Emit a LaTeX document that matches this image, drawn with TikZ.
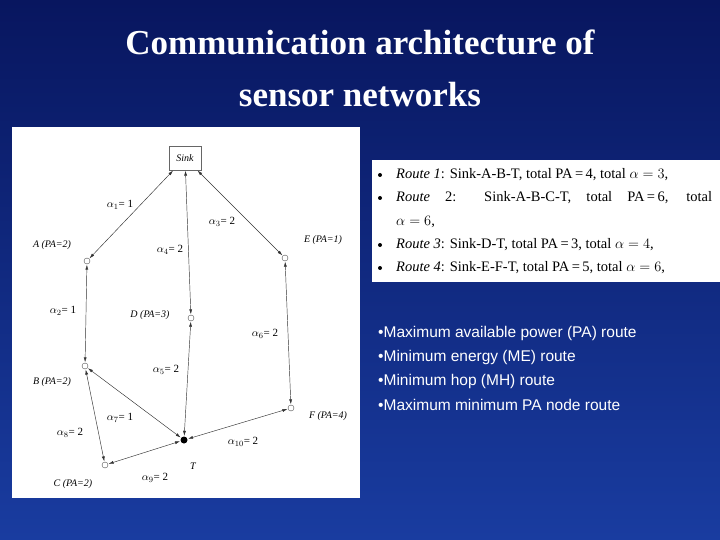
\documentclass[tikz,border=0pt]{standalone}
\usepackage{fontspec}
\setmainfont{Liberation Serif}
\newfontfamily\arial{Liberation Sans}
\usetikzlibrary{arrows.meta}
\begin{document}
\begin{tikzpicture}[x=1pt,y=-1pt,
  vtx/.style={circle,draw=black!70,fill=white,inner sep=0pt,minimum size=6pt,line width=0.4pt},
  edge/.style={draw=black!80,line width=0.45pt,{Latex[length=5pt,width=3pt]}-{Latex[length=5pt,width=3pt]},shorten <=0.5pt,shorten >=0.5pt},
  lab/.style={font=\fontsize{10}{11}\selectfont\itshape,text=black,inner sep=0pt},
  alab/.style={font=\fontsize{11}{12}\selectfont,text=black,inner sep=0pt},
  rt/.style={font=\fontsize{14.5}{16}\selectfont,text=black,anchor=west,inner sep=0pt},
  bl/.style={font=\arial\fontsize{15.5}{17}\selectfont,text=white,anchor=west,inner sep=0pt}]
\definecolor{bgtop}{RGB}{8,22,95}
\definecolor{bgbot}{RGB}{25,60,160}
\shade[top color=bgtop,bottom color=bgbot] (0,0) rectangle (720,540);
\useasboundingbox (0,0) rectangle (720,540);
\node[text=white,font=\fontsize{35}{38}\selectfont\bfseries] (t1) at (360,42) {Communication architecture of};
\node[text=white,font=\fontsize{35}{38}\selectfont\bfseries] (t2) at (360,95) {sensor networks};
% graph panel
\fill[white] (12,127) rectangle (360,498);
\node[draw=black!60,fill=white,minimum width=32pt,minimum height=24pt,inner sep=0pt,font=\fontsize{10}{11}\selectfont\itshape] (S) at (185,158) {Sink};
\node[vtx] (A) at (87,261) {};
\node[vtx] (D) at (191,318) {};
\node[vtx] (E) at (285,258) {};
\node[vtx] (B) at (85,366) {};
\node[vtx] (F) at (291,408) {};
\node[circle,fill=black,inner sep=0pt,minimum size=7pt] (T) at (184,440) {};
\node[vtx] (C) at (105,465) {};
\draw[edge] (S) -- (A);
\draw[edge] (S) -- (D);
\draw[edge] (S) -- (E);
\draw[edge] (A) -- (B);
\draw[edge] (D) -- (T);
\draw[edge] (E) -- (F);
\draw[edge] (B) -- (T);
\draw[edge] (B) -- (C);
\draw[edge] (C) -- (T);
\draw[edge] (F) -- (T);
\node[lab] (lA) at (52,245) {A (PA=2)};
\node[lab] (lE) at (323,240) {E (PA=1)};
\node[lab] (lD) at (150,315) {D (PA=3)};
\node[lab] (lB) at (52,382) {B (PA=2)};
\node[lab] (lF) at (328,416) {F (PA=4)};
\node[lab] (lC) at (73,484) {C (PA=2)};
\node[lab] (lT) at (193,466) {T};
\node[alab] (a1) at (120,205) {$\alpha_{1}$= 1};
\node[alab] (a3) at (222,222) {$\alpha_{3}$= 2};
\node[alab] (a4) at (170,250) {$\alpha_{4}$= 2};
\node[alab] (a2) at (63,311) {$\alpha_{2}$= 1};
\node[alab] (a6) at (265,334) {$\alpha_{6}$= 2};
\node[alab] (a5) at (166,370) {$\alpha_{5}$= 2};
\node[alab] (a7) at (120,418) {$\alpha_{7}$= 1};
\node[alab] (a8) at (70,433) {$\alpha_{8}$= 2};
\node[alab] (a10) at (243,442) {$\alpha_{10}$= 2};
\node[alab] (a9) at (155,478) {$\alpha_{9}$= 2};
% routes panel
\fill[white] (372,160) rectangle (720,282);
\foreach \yy in {175,198,245,268} \fill[black] (380,\yy) circle (2pt);
\node[rt] (r1) at (396,175) {\textit{Route 1}: Sink-A-B-T, total PA\,=\,4, total $\alpha=3$,};
\node[rt] (r2) at (396,198) {\makebox[316pt][s]{\textit{Route} 2: Sink-A-B-C-T, total PA\,=\,6, total}};
\node[rt] (r2b) at (396,222) {$\alpha=6$,};
\node[rt] (r3) at (396,245) {\textit{Route 3}: Sink-D-T, total PA\,=\,3, total $\alpha=4$,};
\node[rt] (r4) at (396,268) {\textit{Route 4}: Sink-E-F-T, total PA\,=\,5, total $\alpha=6$,};
% bullets
\node[bl] (b1) at (378,333) {•Maximum available power (PA) route};
\node[bl] (b2) at (378,357) {•Minimum energy (ME) route};
\node[bl] (b3) at (378,381) {•Minimum hop (MH) route};
\node[bl] (b4) at (378,405) {•Maximum minimum PA node route};
\end{tikzpicture}
\end{document}
